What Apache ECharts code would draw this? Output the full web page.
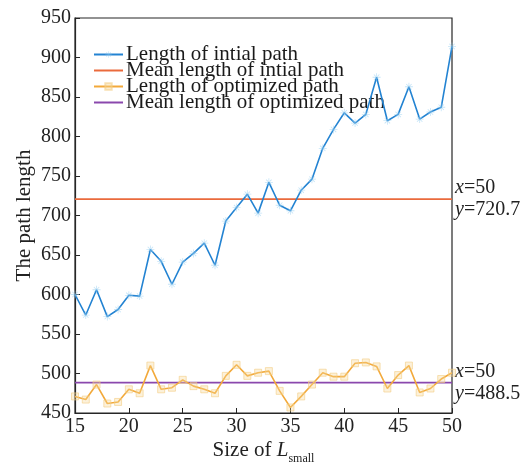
<!DOCTYPE html>
<html>
<head>
<meta charset="utf-8">
<script src="https://cdn.jsdelivr.net/npm/echarts@6/dist/echarts.min.js"></script>
<style>
html,body{margin:0;padding:0;background:#fff;}
#chart{width:530px;height:464px;}
</style>
</head>
<body>
<div id="chart"></div>
<script>
const sizes = [15,16,17,18,19,20,21,22,23,24,25,26,27,28,29,30,31,32,33,34,35,36,37,38,39,40,41,42,43,44,45,46,47,48,49,50];
const initialLengths = [600,574,606,572,581,599,598,657,642,613,641,652,665,637,693,710,727,703,742,713,706,732,746,785,809,830,817,828,875,820,828,863,822,831,837,914];
const optimizedLengths = [471,467,486,462,464,480,475,510,480,482,492,484,480,475,497,511,497,501,503,478,457,471,486,501,496,496,513,514,509,481,498,510,476,481,493,501];
const meanInitial = 720.7;
const meanOptimized = 488.5;
const seriesNames = ['Length of intial path','Mean length of intial path','Length of optimized path','Mean length of optimized path'];

const FONT = 'Liberation Serif';
const xMin = sizes[0], xMax = sizes[sizes.length - 1];

function pairs(xs, ys){ return xs.map((x,i)=>[x, ys[i]]); }
function meanLine(v){ return [[xMin, v],[xMax, v]]; }

const starPath = 'path://M-0.4,-4L0.4,-4L0.4,4L-0.4,4Z M-4,-0.4L4,-0.4L4,0.4L-4,0.4Z M-3,-2.4L-2.4,-3L3,2.4L2.4,3Z M3,-2.4L2.4,-3L-3,2.4L-2.4,3Z';

function annot(v){
  return {
    show: true,
    distance: 3,
    formatter: function(){ return '{i|x}=' + xMax + '\n{i|y}=' + v; },
    color: '#222',
    fontFamily: FONT,
    fontSize: 20,
    lineHeight: 22,
    rich: {
      i: {fontStyle: 'italic', fontFamily: FONT, fontSize: 20, lineHeight: 22, color: '#222'}
    }
  };
}

const chart = echarts.init(document.getElementById('chart'), null, {renderer: 'canvas'});
chart.setOption({
  animation: false,
  backgroundColor: '#fff',
  grid: {left: 75, right: 78, top: 18, bottom: 51, containLabel: false, outerBoundsMode: 'none',
         show: true, borderColor: '#262626', borderWidth: 1.2, backgroundColor: 'transparent'},
  legend: {
    data: seriesNames,
    orient: 'vertical',
    left: 93,
    top: 44,
    itemWidth: 29,
    itemHeight: 8,
    itemGap: -5,
    padding: 0,
    selectedMode: false,
    textStyle: {fontFamily: FONT, fontSize: 21, lineHeight: 16, color: '#1a1a1a', padding: [0,0,0,-2]}
  },
  xAxis: {
    type: 'value',
    min: 15, max: 50, interval: 5,
    axisLine: {show: true, onZero: false, lineStyle: {color: '#262626', width: 1.2}},
    axisTick: {show: true, inside: true, length: 5, lineStyle: {color: '#262626'}},
    splitLine: {show: false},
    axisLabel: {fontFamily: FONT, fontSize: 20, color: '#222', margin: 4},
    name: '{n|Size of }{l|L}{s|small}',
    nameLocation: 'middle',
    nameGap: 26,
    nameMoveOverlap: false,
    nameTextStyle: {
      fontFamily: FONT, fontSize: 21, color: '#222',
      rich: {
        n: {fontFamily: FONT, fontSize: 21, color: '#222', lineHeight: 22, verticalAlign: 'bottom'},
        l: {fontFamily: FONT, fontSize: 21, fontStyle: 'italic', color: '#222', lineHeight: 22, verticalAlign: 'bottom'},
        s: {fontFamily: FONT, fontSize: 12, color: '#222', lineHeight: 22, verticalAlign: 'bottom', padding: [0,0,-4,0]}
      }
    }
  },
  yAxis: {
    type: 'value',
    min: 450, max: 950, interval: 50,
    axisLine: {show: true, onZero: false, lineStyle: {color: '#262626', width: 1.2}},
    axisTick: {show: true, inside: true, length: 5, lineStyle: {color: '#262626'}},
    splitLine: {show: false},
    axisLabel: {fontFamily: FONT, fontSize: 20, color: '#222', margin: 4},
    name: 'The path length',
    nameLocation: 'middle',
    nameGap: 40,
    nameMoveOverlap: false,
    nameRotate: 90,
    nameTextStyle: {fontFamily: FONT, fontSize: 21, color: '#222'}
  },
  series: [
    {
      name: seriesNames[0], type: 'line', data: pairs(sizes, initialLengths),
      symbol: starPath, symbolSize: 8, showAllSymbol: true,
      lineStyle: {color: '#2383d2', width: 1.6},
      itemStyle: {color: 'rgba(150,205,240,0.55)'},
      z: 5
    },
    {
      name: seriesNames[1], type: 'line', data: meanLine(meanInitial),
      symbol: 'none', lineStyle: {color: '#ea6a3c', width: 1.6}, itemStyle: {color: 'rgba(0,0,0,0)'},
      endLabel: annot(meanInitial), z: 3
    },
    {
      name: seriesNames[2], type: 'line', data: pairs(sizes, optimizedLengths),
      symbol: 'rect', symbolSize: 7, showAllSymbol: true,
      lineStyle: {color: '#f2a93a', width: 1.6},
      itemStyle: {color: 'rgba(246,215,150,0.35)', borderColor: 'rgba(243,205,130,0.6)', borderWidth: 1},
      z: 5
    },
    {
      name: seriesNames[3], type: 'line', data: meanLine(meanOptimized),
      symbol: 'none', lineStyle: {color: '#8a48ad', width: 1.6}, itemStyle: {color: 'rgba(0,0,0,0)'},
      endLabel: annot(meanOptimized), z: 3
    }
  ]
});
</script>
</body>
</html>
